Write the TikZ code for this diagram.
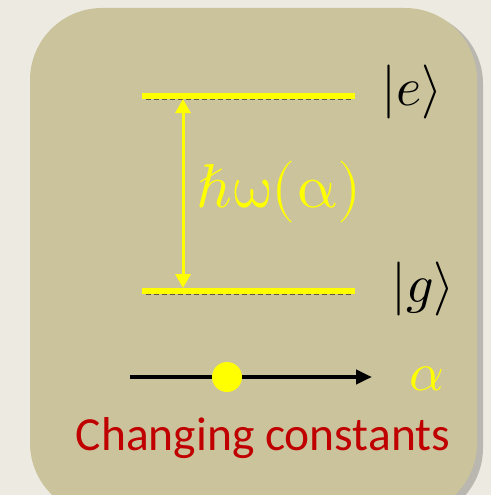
\documentclass[tikz,border=0pt]{standalone}
\usepackage{fontspec}
\usepackage{unicode-math}
\setmathfont{Latin Modern Math}
\newfontfamily\carl{Carlito}
\usetikzlibrary{arrows.meta}
\definecolor{bgc}{HTML}{EDEBE1}
\definecolor{boxc}{HTML}{CBC39C}
\definecolor{yel}{HTML}{FFFF00}
\definecolor{redc}{HTML}{C00000}
\tikzset{
  level/.style={yel, line width=5.5pt},
  levelshadow/.style={black!55!boxc, line width=1.5pt, dash pattern=on 5pt off 3pt},
  lbl/.style={inner sep=0pt, anchor=center},
}
\begin{document}
\begin{tikzpicture}[x=1pt,y=-1pt]
\fill[bgc] (0,0) rectangle (491,495);
\useasboundingbox (0,0) rectangle (491,495);
% shadow of box
\fill[black!22!bgc, rounded corners=72pt] (35,12) rectangle (483,520);
\fill[boxc, rounded corners=72pt] (30,8) rectangle (477,515);
% levels
\draw[levelshadow] (146,99.5) -- (353,99.5);
\draw[levelshadow] (146,294.5) -- (353,294.5);
\coordinate (e1) at (142,96);
\coordinate (e2) at (355,96);
\coordinate (g1) at (142,291);
\coordinate (g2) at (355,291);
\draw[level] (e1) -- (e2);
\draw[level] (g1) -- (g2);
\coordinate (at) at (183,99);
\coordinate (ab) at (183,288);
\draw[yel, line width=3pt, {Triangle[width=15pt,length=14pt]}-{Triangle[width=15pt,length=14pt]}] (at) -- (ab);
\node[lbl, yel, font=\fontsize{62}{66}\selectfont] (hw) at (279,192) {$\hbar\upomega(\upalpha)$};
\node[lbl, font=\fontsize{54}{58}\selectfont] (ke) at (412,92) {$|e\rangle$};
\node[lbl, font=\fontsize{54}{58}\selectfont] (kg) at (423,289) {$|g\rangle$};
% alpha axis
\coordinate (s) at (130,377);
\coordinate (t) at (372,377);
\draw[black, line width=4pt, -{Triangle[width=14pt,length=16pt]}] (s) -- (t);
\node[circle, fill=yel, minimum size=30pt, inner sep=0pt] (dot) at (227,377) {};
\node[lbl, yel, font=\fontsize{54}{58}\selectfont] (al) at (427,379) {$\alpha$};
\node[lbl, redc, font=\carl\fontsize{47.5}{50}\selectfont] (cc) at (263,438) {Changing constants};
\end{tikzpicture}
\end{document}
